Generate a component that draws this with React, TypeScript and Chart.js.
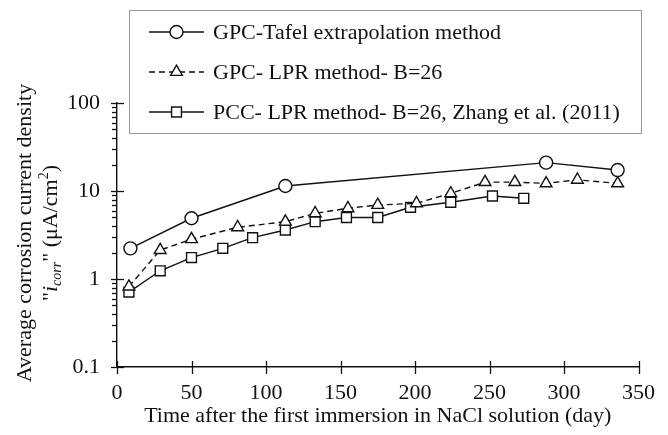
import React, { useEffect, useRef } from 'react';
import { Chart, registerables } from 'chart.js';

Chart.register(...registerables);

// ---- Data ----
const tafelDays = [9, 50, 113, 288, 336];
const tafelVals = [2.23, 4.9, 11.4, 21.0, 17.3];

const lprDays = [8, 29, 50, 81, 113, 133, 155, 175, 201, 224, 247, 267, 288, 309, 336];
const lprVals = [0.82, 2.13, 2.83, 3.87, 4.48, 5.58, 6.36, 6.93, 7.25, 9.4, 12.6, 12.6, 12.2, 13.4, 12.2];

const pccDays = [8, 29, 50, 71, 91, 113, 133, 154, 175, 197, 224, 252, 273];
const pccVals = [0.71, 1.24, 1.75, 2.23, 2.95, 3.6, 4.48, 5.0, 5.0, 6.53, 7.44, 8.77, 8.26];

const seriesLabels = [
  'GPC-Tafel extrapolation method',
  'GPC- LPR method- B=26',
  'PCC- LPR method- B=26, Zhang et al. (2011)',
];

const xTickValues = [0, 50, 100, 150, 200, 250, 300, 350];
const yMajorValues = [0.1, 1, 10, 100];
const yMinorFactors = [2, 3, 4, 5, 6, 7, 8, 9];

const xTitle = 'Time after the first immersion in NaCl solution (day)';
const yTitleLine1 = 'Average corrosion current density';

const FONT = '"Liberation Serif", "Times New Roman", serif';

function toPoints(xs: number[], ys: number[]) {
  return xs.map((x, i) => ({ x, y: ys[i] }));
}

const decorPlugin = {
  id: 'decor',
  afterDraw(chart: any) {
    const ctx = chart.ctx as CanvasRenderingContext2D;
    const xs = chart.scales.x;
    const ys = chart.scales.y;
    const area = chart.chartArea;
    ctx.save();
    ctx.strokeStyle = '#111';
    ctx.lineWidth = 1.3;

    // x tick marks (crossing the axis)
    xTickValues.forEach((v) => {
      const px = Math.round(xs.getPixelForValue(v)) + 0.5;
      ctx.beginPath();
      ctx.moveTo(px, area.bottom - 6);
      ctx.lineTo(px, area.bottom + 7);
      ctx.stroke();
    });
    // y major tick marks (crossing)
    yMajorValues.forEach((v) => {
      const py = Math.round(ys.getPixelForValue(v)) + 0.5;
      ctx.beginPath();
      ctx.moveTo(area.left - 6, py);
      ctx.lineTo(area.left + 7, py);
      ctx.stroke();
    });
    // y minor tick marks (outside)
    yMajorValues.slice(0, 3).forEach((base) => {
      yMinorFactors.forEach((f) => {
        const py = Math.round(ys.getPixelForValue(base * f)) + 0.5;
        ctx.beginPath();
        ctx.moveTo(area.left - 5, py);
        ctx.lineTo(area.left, py);
        ctx.stroke();
      });
    });

    // x axis title
    ctx.fillStyle = '#111';
    ctx.font = '22px ' + FONT;
    ctx.textAlign = 'center';
    ctx.textBaseline = 'alphabetic';
    ctx.fillText(xTitle, (area.left + area.right) / 2, 422);

    // y axis title (two lines, rotated)
    const cy = 233;
    ctx.save();
    ctx.translate(24, cy);
    ctx.rotate(-Math.PI / 2);
    ctx.textAlign = 'center';
    ctx.fillText(yTitleLine1, 0, 7);
    ctx.restore();

    ctx.save();
    ctx.translate(50, cy);
    ctx.rotate(-Math.PI / 2);
    ctx.textAlign = 'left';
    const pieces = [
      { t: '"', f: '22px ' + FONT, dy: 0 },
      { t: 'i', f: 'italic 22px ' + FONT, dy: 0 },
      { t: 'corr', f: 'italic 14px ' + FONT, dy: 4 },
      { t: '"', f: '22px ' + FONT, dy: 0 },
      { t: ' (\u03bcA/cm', f: '22px ' + FONT, dy: 0 },
      { t: '2', f: '14px ' + FONT, dy: -9 },
      { t: ')', f: '22px ' + FONT, dy: 0 },
    ];
    let total = 0;
    pieces.forEach((p) => {
      ctx.font = p.f;
      total += ctx.measureText(p.t).width;
    });
    let cx = -total / 2;
    pieces.forEach((p) => {
      ctx.font = p.f;
      ctx.fillText(p.t, cx, 7 + p.dy);
      cx += ctx.measureText(p.t).width;
    });
    ctx.restore();

    // legend box
    ctx.strokeStyle = '#9a9a9a';
    ctx.lineWidth = 1;
    ctx.strokeRect(129.5, 10.5, 512, 123);
    const rows = [32, 72, 112];
    chart.data.datasets.forEach((ds: any, i: number) => {
      const y = rows[i];
      ctx.save();
      ctx.strokeStyle = '#111';
      ctx.lineWidth = 1.4;
      ctx.setLineDash(ds.borderDash || []);
      ctx.beginPath();
      ctx.moveTo(149, y);
      ctx.lineTo(204, y);
      ctx.stroke();
      ctx.restore();
      ctx.save();
      ctx.strokeStyle = '#111';
      ctx.fillStyle = '#fff';
      ctx.lineWidth = 1.4;
      const mx = 176.5;
      const r = ds.pointRadius;
      ctx.beginPath();
      if (ds.pointStyle === 'circle') {
        ctx.arc(mx, y, r, 0, Math.PI * 2);
      } else if (ds.pointStyle === 'triangle') {
        ctx.moveTo(mx, y - r);
        ctx.lineTo(mx + r * Math.sin((2 * Math.PI) / 3), y - r * Math.cos((2 * Math.PI) / 3));
        ctx.lineTo(mx + r * Math.sin((4 * Math.PI) / 3), y - r * Math.cos((4 * Math.PI) / 3));
        ctx.closePath();
      } else {
        const s = r * Math.SQRT1_2;
        ctx.rect(mx - s, y - s, 2 * s, 2 * s);
      }
      ctx.fill();
      ctx.stroke();
      ctx.restore();
      ctx.fillStyle = '#111';
      ctx.font = '22px ' + FONT;
      ctx.textAlign = 'left';
      ctx.textBaseline = 'middle';
      ctx.fillText(ds.label, 213, y + 1);
    });
    ctx.restore();
  },
};

export default function App() {
  const ref = useRef<HTMLCanvasElement | null>(null);
  useEffect(() => {
    if (!ref.current) return;
    const common = {
      showLine: true,
      borderColor: '#111',
      borderWidth: 1.4,
      pointBackgroundColor: '#fff',
      pointBorderColor: '#111',
      pointBorderWidth: 1.4,
      fill: false,
      tension: 0,
    };
    const chart = new Chart(ref.current, {
      type: 'scatter',
      data: {
        datasets: [
          {
            ...common,
            label: seriesLabels[0],
            data: toPoints(tafelDays, tafelVals),
            pointStyle: 'circle',
            pointRadius: 6.5,
            pointHoverRadius: 6.5,
          },
          {
            ...common,
            label: seriesLabels[1],
            data: toPoints(lprDays, lprVals),
            pointStyle: 'triangle',
            pointRadius: 6.8,
            pointHoverRadius: 6.8,
            borderDash: [6, 4],
          },
          {
            ...common,
            label: seriesLabels[2],
            data: toPoints(pccDays, pccVals),
            pointStyle: 'rect',
            pointRadius: 7,
            pointHoverRadius: 7,
          },
        ] as any,
      },
      options: {
        animation: false,
        responsive: false,
        devicePixelRatio: 1,
        layout: { padding: { left: 0, top: 103, right: 19, bottom: 0 } },
        plugins: { legend: { display: false }, tooltip: { enabled: false } },
        scales: {
          x: {
            type: 'linear',
            min: 0,
            max: 350,
            afterBuildTicks: (scale: any) => {
              scale.ticks = xTickValues.map((v) => ({ value: v }));
            },
            afterFit: (scale: any) => {
              scale.height = 68;
            },
            grid: { display: false, drawTicks: false },
            border: { display: true, color: '#111', width: 1.4 },
            ticks: {
              color: '#111',
              font: { family: FONT, size: 22 },
              padding: 13,
              maxRotation: 0,
              autoSkip: false,
              callback: (v: any) => String(v),
            },
          },
          y: {
            type: 'logarithmic',
            min: 0.1,
            max: 100,
            afterBuildTicks: (scale: any) => {
              scale.ticks = yMajorValues.map((v) => ({ value: v }));
            },
            afterFit: (scale: any) => {
              scale.width = 117;
            },
            grid: { display: false, drawTicks: false },
            border: { display: true, color: '#111', width: 1.4 },
            ticks: {
              color: '#111',
              font: { family: FONT, size: 22 },
              padding: 17,
              autoSkip: false,
              callback: (v: any) => String(v),
            },
          },
        },
      } as any,
      plugins: [decorPlugin],
    });
    return () => chart.destroy();
  }, []);
  return (
    <div style={{ position: 'fixed', left: 0, top: 0, width: 668, height: 435, background: '#fff' }}>
      <canvas ref={ref} width={668} height={435} />
    </div>
  );
}
